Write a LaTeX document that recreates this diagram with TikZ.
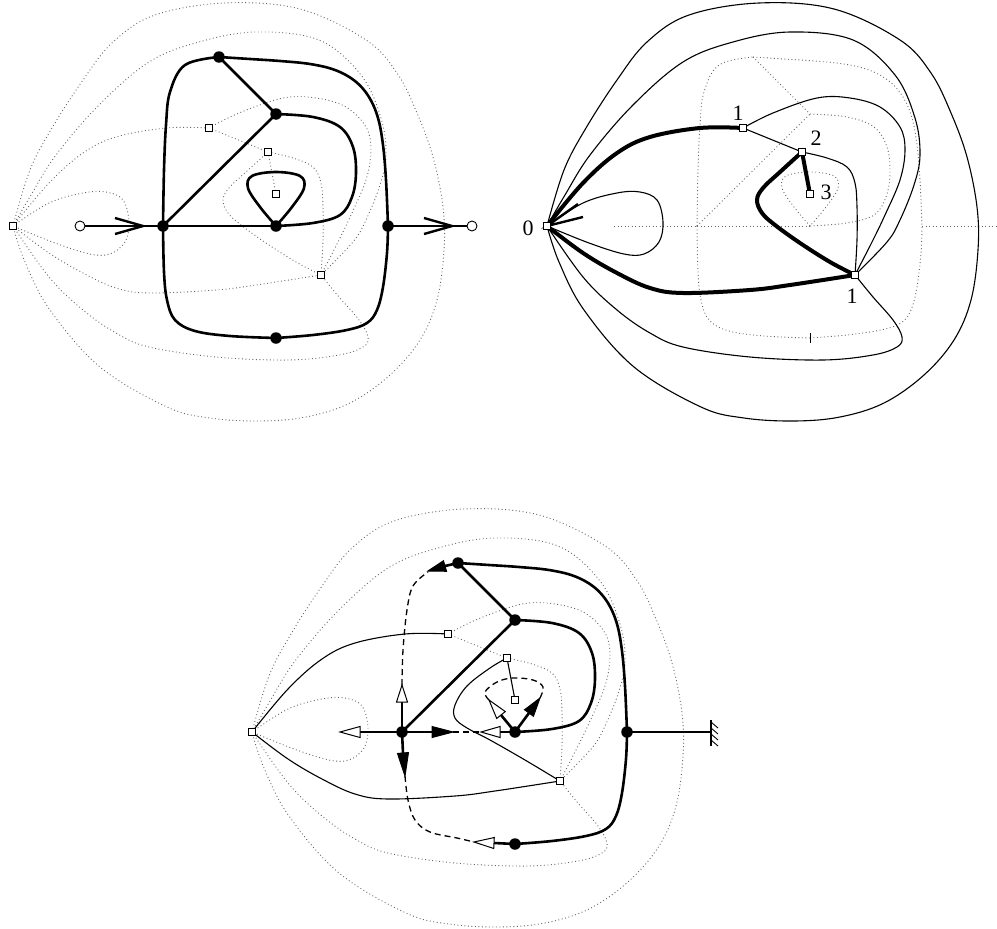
\documentclass[tikz,border=0pt]{standalone}
\usepackage{fontspec}
\setmainfont{Liberation Serif}
\usetikzlibrary{calc}
% named points of one copy of the map (prefix #1)
\newcommand\mkpts[1]{%
 \coordinate (#1R) at (13,226);
 \coordinate (#1S1) at (209,128);
 \coordinate (#1S2) at (268,152);
 \coordinate (#1S3) at (276,194);
 \coordinate (#1S4) at (321,275);
 \coordinate (#1A) at (163,226);
 \coordinate (#1B) at (219,57);
 \coordinate (#1C) at (276,114);
 \coordinate (#1D) at (276,226);
 \coordinate (#1E) at (388,226);
 \coordinate (#1F) at (276,338);
 \coordinate (#1Li) at (80,226);
 \coordinate (#1Lo) at (472,226);
}
% dual edges
\newcommand\dLS[2]{\draw[#2] plot[smooth,tension=.6] coordinates {(#1R) (49,203) (83,193) (106,192) (123,200) (129,222) (125,242) (110,254) (90,254) (55,243) (#1R)};}
\newcommand\dLB[2]{\draw[#2] plot[smooth,tension=.6] coordinates {(#1R) (30,170) (52,128) (83,80) (113,42) (155,15) (225,3) (300,9) (366,40) (397,73) (417,113) (433,157) (443,207) (444,250) (437,300) (420,340) (390,375) (350,403) (306,417) (260,421) (210,418) (167,407) (100,367) (50,310) (25,262) (#1R)};}
\newcommand\dRSa[2]{\draw[#2] plot[smooth,tension=.6] coordinates {(#1R) (49,183) (83,153) (116,137) (166,128) (#1S1)};}
\newcommand\dSab[2]{\draw[#2] (#1S1) -- (#1S2);}
\newcommand\dSad[2]{\draw[#2] plot[smooth,tension=.6] coordinates {(#1S1) (239,113) (283,98) (316,98) (346,107) (366,127) (371,150) (366,180) (351,215) (338,242) (#1S4)};}
\newcommand\dSbc[2]{\draw[#2] (#1S2) -- (#1S3);}
\newcommand\dSbdA[2]{\draw[#2] plot[smooth,tension=.6] coordinates {(#1S2) (246,172) (229,188) (223,200) (228,213) (241,225) (266,243) (296,262) (#1S4)};}
\newcommand\dSbdC[2]{\draw[#2] plot[smooth,tension=.6] coordinates {(#1S2) (293,158) (313,167) (321,183) (323,207) (323,240) (#1S4)};}
\newcommand\dRdF[2]{\draw[#2] plot[smooth,tension=.6] coordinates {(#1R) (49,253) (83,273) (116,288) (149,293) (216,290) (256,285) (#1S4)};}
\newcommand\dRdT[2]{\draw[#2] plot[smooth,tension=.6] coordinates {(#1R) (31,195) (56,155) (99,105) (149,62) (199,42) (256,32) (319,40) (361,75) (381,118) (386,155) (380,185) (366,220) (353,242) (#1S4)};}
\newcommand\dRdB[2]{\draw[#2] plot[smooth,tension=.6] coordinates {(#1R) (49,277) (83,310) (116,333) (149,347) (216,357) (289,360) (339,355) (363,347) (368,337) (359,320) (339,297) (#1S4)};}
% primal edges
\newcommand\pAB[2]{\draw[#2] plot[smooth,tension=.6] coordinates {(#1A) (164,170) (166,125) (170,92) (185,65) (#1B)};}
\newcommand\pBE[2]{\draw[#2] plot[smooth,tension=.6] coordinates {(#1B) (250,59) (280,61) (310,64) (335,70) (355,81) (369,97) (378,118) (383,145) (386,180) (#1E)};}
\newcommand\pCD[2]{\draw[#2] plot[smooth,tension=.6] coordinates {(#1C) (313,117) (340,127) (353,147) (356,173) (352,197) (340,215) (313,223) (#1D)};}
\newcommand\pLp[2]{\draw[#2] plot[smooth,tension=.6] coordinates {(#1D) (260,207) (248,188) (252,176) (276,172) (300,176) (304,188) (292,207) (#1D)};}
\newcommand\pAF[2]{\draw[#2] plot[smooth,tension=.6] coordinates {(#1A) (164,272) (167,300) (175,320) (195,331) (230,336) (#1F)};}
\newcommand\pFE[2]{\draw[#2] plot[smooth,tension=.6] coordinates {(#1F) (313,335) (347,330) (367,323) (377,310) (383,287) (387,253) (#1E)};}
\newcommand\pAC[2]{\draw[#2] (#1A) -- (#1C);}
\newcommand\pBC[2]{\draw[#2] (#1B) -- (#1C);}
\newcommand\pAD[2]{\draw[#2] (#1A) -- (#1D);}
% arrow triangle: style, base, tip
\newcommand\arrtri[3]{\draw[#1] (#3) -- ($(#2)!5.5pt!90:(#3)$) -- ($(#2)!5.5pt!-90:(#3)$) -- cycle;}
\begin{document}
\begin{tikzpicture}[x=1pt,y=-1pt,
 dotl/.style={black!60, line width=0.9pt, dash pattern=on 0.9pt off 2.6pt},
 prim/.style={line width=2.6pt, line join=round},
 chev/.style={line width=2.4pt, line join=miter},
 thinl/.style={line width=1.1pt},
 thickd/.style={line width=4pt},
 dashl/.style={line width=1.3pt, dash pattern=on 6pt off 4pt},
 sq/.style={draw, fill=white, line width=0.8pt, minimum size=7pt, inner sep=0pt, shape=rectangle},
 bdot/.style={circle, fill=black, minimum size=11.5pt, inner sep=0pt},
 odot/.style={circle, draw, fill=white, line width=0.9pt, minimum size=10pt, inner sep=0pt},
 lbl/.style={font=\fontsize{22}{24}\selectfont, inner sep=0pt},
 otri/.style={draw, fill=white, line width=1pt, line join=miter},
 ftri/.style={draw, fill=black, line width=1pt, line join=miter}]
\useasboundingbox (0,0) rectangle (997,929);

% ================= top left =================
\begin{scope}
\mkpts{tl}
\dLS{tl}{dotl} \dLB{tl}{dotl} \dRSa{tl}{dotl} \dSab{tl}{dotl} \dSad{tl}{dotl}
\dSbc{tl}{dotl} \dSbdA{tl}{dotl} \dSbdC{tl}{dotl} \dRdF{tl}{dotl} \dRdT{tl}{dotl} \dRdB{tl}{dotl}
\pAB{tl}{prim} \pBE{tl}{prim} \pCD{tl}{prim} \pLp{tl}{prim} \pAF{tl}{prim} \pFE{tl}{prim}
\pAC{tl}{prim} \pBC{tl}{prim} \pAD{tl}{prim}
\draw[prim] (tlLi) -- (tlA);
\draw[prim] (tlE) -- (tlLo);
\draw[chev] (115,218) -- (143,226) -- (115,234);
\draw[chev] (424,218) -- (452,226) -- (424,234);
\foreach \v in {A,B,C,D,E,F} \node[bdot] (tln\v) at (tl\v) {};
\node[odot] (tlnLi) at (tlLi) {};
\node[odot] (tlnLo) at (tlLo) {};
\foreach \v in {R,S1,S2,S3,S4} \node[sq] (tlq\v) at (tl\v) {};
\end{scope}

% ================= top right =================
\begin{scope}[shift={(534,0)}]
\mkpts{tr}
\pAB{tr}{dotl} \pBE{tr}{dotl} \pCD{tr}{dotl} \pLp{tr}{dotl} \pAF{tr}{dotl} \pFE{tr}{dotl}
\pAC{tr}{dotl} \pBC{tr}{dotl} \pAD{tr}{dotl}
\coordinate (trEnd) at (463,226);
\draw[dotl] (trLi) -- (trA);
\draw[dotl] (trE) -- (trEnd);
\coordinate (trF1) at (276,333);
\coordinate (trF2) at (276,343);
\draw[line width=0.9pt] (trF1) -- (trF2);
\dLS{tr}{thinl} \dLB{tr}{thinl} \dSab{tr}{thinl} \dSad{tr}{thinl} \dSbdC{tr}{thinl} \dRdT{tr}{thinl} \dRdB{tr}{thinl}
\dRSa{tr}{thickd} \dSbc{tr}{thickd} \dSbdA{tr}{thickd} \dRdF{tr}{thickd}
\coordinate (trb1) at (44,204);
\coordinate (trb2) at (49,217);
\draw[chev] (trb1) -- (trR) -- (trb2);
\foreach \v in {R,S1,S2,S3,S4} \node[sq] (trq\v) at (tr\v) {};
\node[lbl] (trl0) at (-6,228) {0};
\node[lbl] (trl1) at (204,113) {1};
\node[lbl] (trl2) at (282,138) {2};
\node[lbl] (trl3) at (292,192) {3};
\node[lbl] (trl4) at (318,296) {1};
\end{scope}

% ================= bottom =================
\begin{scope}[shift={(239,506)}]
\mkpts{bb}
\dLS{bb}{dotl} \dLB{bb}{dotl} \dSab{bb}{dotl} \dSad{bb}{dotl} \dSbdC{bb}{dotl} \dRdT{bb}{dotl} \dRdB{bb}{dotl}
\dRSa{bb}{thinl} \dRdF{bb}{thinl} \dSbc{bb}{thinl}
\draw[thinl] plot[smooth,tension=.6] coordinates {(bbS2) (251,162) (228,180) (216,199) (216,212) (228,222) (251,234) (286,254) (bbS4)};
\pBE{bb}{prim} \pCD{bb}{prim} \pFE{bb}{prim} \pAC{bb}{prim} \pBC{bb}{prim}
\draw[prim] (bbE) -- (bbLo);
% ground
\coordinate (bbG1) at (472,214);
\coordinate (bbG2) at (472,240);
\draw[line width=1.2pt] (bbG1) -- (bbG2);
\foreach \yy in {216,222,228,234} \draw[line width=0.9pt] (472,\yy) -- (479,\yy+6);
% dashed non-tree edges
\draw[dashl] plot[smooth,tension=.6] coordinates {(163,179) (164,144) (168,104) (174,80) (189,66)};
\draw[dashl] plot[smooth,tension=.6] coordinates {(166,270) (169,294) (176,314) (191,326) (218,332) (235,336)};
\draw[dashl] (214,226) -- (242,226);
\draw[dashl] plot[smooth,tension=.6] coordinates {(250,194) (246,186) (258,176) (274,172) (294,174) (304,181) (301,192)};
% half-edge stubs with arrowheads
\draw[prim] (bbA) -- (121,226); \arrtri{otri}{121,226}{101,226}
\draw[prim] (bbA) -- (163,196); \arrtri{otri}{163,196}{163,179}
\draw[prim] (bbA) -- (193,226); \arrtri{ftri}{193,226}{214,226}
\draw[prim] (bbA) -- (164,247); \arrtri{ftri}{164,247}{166,270}
\draw[prim] (bbB) -- (206,60); \arrtri{ftri}{206,60}{189,65}
\draw[prim] (bbD) -- (261,226); \arrtri{otri}{261,226}{242,226}
\draw[prim] (bbD) -- (262,209); \arrtri{otri}{262,209}{250,194}
\draw[prim] (bbD) -- (290,207); \arrtri{ftri}{290,207}{301,192}
\draw[prim] (bbF) -- (255,337); \arrtri{otri}{255,337}{235,336}
\foreach \v in {A,B,C,D,E,F} \node[bdot] (bbn\v) at (bb\v) {};
\foreach \v in {R,S1,S2,S3,S4} \node[sq] (bbq\v) at (bb\v) {};
\end{scope}
\end{tikzpicture}
\end{document}
